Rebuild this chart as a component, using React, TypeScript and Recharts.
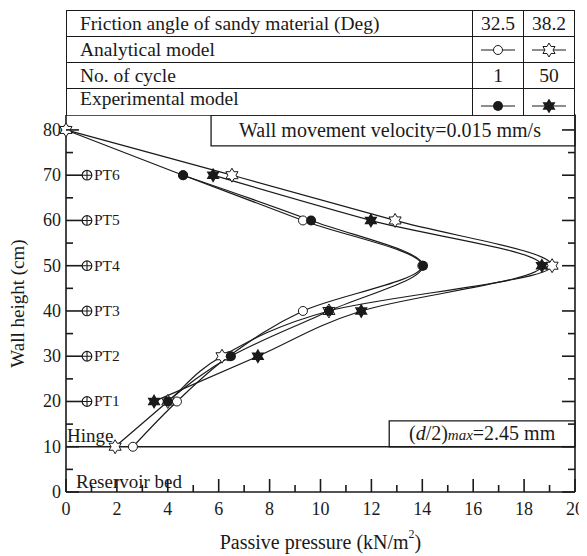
import React from "react";
import { LineChart, Line, XAxis, YAxis, ReferenceLine, ReferenceArea } from "recharts";

// wall height (cm) at each pressure transducer / hinge
const heights = [10, 20, 30, 40, 50, 60, 70, 80];
// passive pressure (kN/m2)
const analytical325 = [2.63, 4.36, 6.4, 9.31, 14.0, 9.31, 4.6, 0];
const analytical382 = [1.93, 4.0, 6.13, 10.33, 19.1, 12.93, 6.52, 0];
const experimental1 = [null, 4.0, 6.48, 10.33, 14.03, 9.63, 4.6, null];
const experimental50 = [null, 3.46, 7.54, 11.6, 18.7, 11.98, 5.78, null];

const frictionAngles = ["32.5", "38.2"];
const cycles = ["1", "50"];

const xTicks = [0, 1, 2, 3, 4, 5, 6, 7, 8, 9, 10, 11, 12, 13, 14, 15, 16, 17, 18, 19, 20];
const xLabels = [0, 2, 4, 6, 8, 10, 12, 14, 16, 18, 20];
const yTicks = [0, 5, 10, 15, 20, 25, 30, 35, 40, 45, 50, 55, 60, 65, 70, 75, 80];
const yLabels = [0, 10, 20, 30, 40, 50, 60, 70, 80];
const ptHeights = [20, 30, 40, 50, 60, 70];
const ptNames = ["PT1", "PT2", "PT3", "PT4", "PT5", "PT6"];

const data = heights.map((h, i) => ({
  h,
  a325: analytical325[i],
  a382: analytical382[i],
  e1: experimental1[i],
  e50: experimental50[i],
}));

const FONT = '"Liberation Serif", "Times New Roman", serif';
const INK = "#1a1a1a";
const TICK_W = 1.6;

const starPath = (cx: number, cy: number, r: number) => {
  const ri = r / Math.sqrt(3);
  let d = "";
  for (let k = 0; k < 12; k++) {
    const rad = k % 2 === 0 ? r : ri;
    const a = ((-90 + 30 * k) * Math.PI) / 180;
    d += (k ? "L" : "M") + (cx + rad * Math.cos(a)).toFixed(2) + "," + (cy + rad * Math.sin(a)).toFixed(2);
  }
  return d + "Z";
};

const Marker = ({ kind, cx, cy }: { kind: string; cx: number; cy: number }) => {
  if (kind === "openCircle") return <circle cx={cx} cy={cy} r={4.5} fill="#fff" stroke={INK} strokeWidth={1} />;
  if (kind === "fillCircle") return <circle cx={cx} cy={cy} r={5} fill={INK} />;
  if (kind === "openStar") return <path d={starPath(cx, cy, 7)} fill="#fff" stroke={INK} strokeWidth={1} />;
  return <path d={starPath(cx, cy, 7.5)} fill={INK} />;
};

const dotFor = (kind: string) => (p: any) => {
  const key = `${kind}-${p.index}`;
  if (p.cx == null || p.cy == null || p.value == null) return <g key={key} />;
  return (
    <g key={key}>
      <Marker kind={kind} cx={p.cx} cy={p.cy} />
    </g>
  );
};

const BottomTick = (p: any) => {
  const v = p.payload.value;
  const major = xLabels.includes(v);
  return (
    <g>
      <path d={`M${p.x},${p.y}V${p.y - (major ? 13 : 7)}`} stroke={INK} strokeWidth={TICK_W} fill="none" />
      {major && (
        <text x={p.x} y={p.y + 23} textAnchor="middle" fontFamily={FONT} fontSize={18} fill={INK}>
          {v}
        </text>
      )}
    </g>
  );
};

const TopTick = (p: any) => {
  const v = p.payload.value;
  const major = xLabels.includes(v);
  return <path d={`M${p.x},${p.y}V${p.y + (major ? 13 : 7)}`} stroke={INK} strokeWidth={TICK_W} fill="none" />;
};

const LeftTick = (p: any) => {
  const v = p.payload.value;
  const major = yLabels.includes(v);
  const pt = ptHeights.indexOf(v);
  return (
    <g>
      {pt >= 0 ? (
        <g>
          <path d={`M${p.x},${p.y}H${p.x + 16}`} stroke={INK} strokeWidth={TICK_W} fill="none" />
          <circle cx={p.x + 21} cy={p.y} r={4.8} fill="#fff" stroke={INK} strokeWidth={1.2} />
          <path d={`M${p.x + 16.2},${p.y}H${p.x + 25.8}M${p.x + 21},${p.y - 4.8}V${p.y + 4.8}`} stroke={INK} strokeWidth={1.1} fill="none" />
          <text x={p.x + 28} y={p.y + 5} fontFamily={FONT} fontSize={15.5} fill={INK}>
            {ptNames[pt]}
          </text>
        </g>
      ) : (
        <path d={`M${p.x},${p.y}H${p.x + (major ? 13 : 7)}`} stroke={INK} strokeWidth={TICK_W} fill="none" />
      )}
      {major && (
        <text x={p.x - 5} y={p.y + 6} textAnchor="end" fontFamily={FONT} fontSize={18} fill={INK}>
          {v}
        </text>
      )}
    </g>
  );
};

const RightTick = (p: any) => {
  const v = p.payload.value;
  const major = yLabels.includes(v);
  return <path d={`M${p.x},${p.y}H${p.x - (major ? 13 : 7)}`} stroke={INK} strokeWidth={TICK_W} fill="none" />;
};

const XTitle = (p: any) => {
  const vb = p.viewBox;
  return (
    <text x={vb.x + vb.width / 2} y={vb.y + 57} textAnchor="middle" fontFamily={FONT} fontSize={20} fill={INK}>
      Passive pressure (kN/m
      <tspan dy={-11} fontSize={12}>2</tspan>
      <tspan dy={11}>)</tspan>
    </text>
  );
};

const YTitle = (p: any) => {
  const vb = p.viewBox;
  const cx = vb.x + 16;
  const cy = vb.y + vb.height / 2;
  return (
    <text x={cx} y={cy} textAnchor="middle" fontFamily={FONT} fontSize={19} fill={INK} transform={`rotate(-90 ${cx} ${cy})`}>
      Wall height (cm)
    </text>
  );
};

const VelocityText = (p: any) => {
  const vb = p.viewBox;
  return (
    <text x={vb.x + vb.width / 2 - 3} y={vb.y + vb.height / 2 + 7} textAnchor="middle" fontFamily={FONT} fontSize={20} fill={INK}>
      Wall movement velocity=0.015 mm/s
    </text>
  );
};

const DispText = (p: any) => {
  const vb = p.viewBox;
  return (
    <text x={vb.x + vb.width / 2} y={vb.y + vb.height / 2 + 6} textAnchor="middle" fontFamily={FONT} fontSize={20} fill={INK}>
      (<tspan fontStyle="italic">d</tspan>/2)
      <tspan fontStyle="italic" fontSize={15}>max</tspan>
      =2.45 mm
    </text>
  );
};

const HingeText = (p: any) => {
  const vb = p.viewBox;
  return (
    <text x={vb.x + 1} y={vb.y - 5} fontFamily={FONT} fontSize={19} fill={INK}>
      Hinge
    </text>
  );
};

const BedText = (p: any) => {
  const vb = p.viewBox;
  return (
    <text x={vb.x + 10} y={vb.y - 4} fontFamily={FONT} fontSize={19} fill={INK}>
      Reservoir bed
    </text>
  );
};

const LegendMark = ({ kind }: { kind: string }) => (
  <svg width={36} height={14} style={{ display: "block", margin: "0 auto" }}>
    <path d="M1,7H35" stroke={INK} strokeWidth={1} />
    <Marker kind={kind} cx={18} cy={7} />
  </svg>
);

const rowHeights = [25, 26, 26, 28];
const cell: React.CSSProperties = {
  width: 51,
  borderLeft: `1.2px solid ${INK}`,
  display: "flex",
  alignItems: "center",
  justifyContent: "center",
  boxSizing: "border-box",
};

const Legend = () => {
  const rows = [
    { label: "Friction angle of sandy material (Deg)", a: frictionAngles[0], b: frictionAngles[1] },
    { label: "Analytical model", a: <LegendMark kind="openCircle" />, b: <LegendMark kind="openStar" /> },
    { label: "No. of cycle", a: cycles[0], b: cycles[1] },
    { label: "Experimental model", a: <LegendMark kind="fillCircle" />, b: <LegendMark kind="fillStar" /> },
  ];
  return (
    <div
      style={{
        position: "absolute",
        left: 58,
        top: 2,
        width: 509,
        height: 105,
        border: `1.5px solid ${INK}`,
        borderBottom: "none",
        boxSizing: "border-box",
        fontFamily: FONT,
        fontSize: 19.5,
        color: INK,
        background: "#fff",
      }}
    >
      {rows.map((r, i) => (
        <div
          key={i}
          style={{
            display: "flex",
            height: rowHeights[i],
            borderTop: i ? `1.2px solid ${INK}` : "none",
            boxSizing: "border-box",
          }}
        >
          <div
            style={{
              flex: 1,
              paddingLeft: 13,
              display: "flex",
              alignItems: i === 3 ? "flex-start" : "center",
              lineHeight: "20px",
            }}
          >
            {r.label}
          </div>
          <div style={{ ...cell, alignItems: i === 3 ? "flex-end" : "center", paddingBottom: i === 3 ? 3 : 0 }}>{r.a}</div>
          <div style={{ ...cell, alignItems: i === 3 ? "flex-end" : "center", paddingBottom: i === 3 ? 3 : 0 }}>{r.b}</div>
        </div>
      ))}
    </div>
  );
};

export default function App() {
  return (
    <div style={{ position: "relative", width: 579, height: 548, background: "#fff" }}>
      <LineChart
        width={579}
        height={548}
        data={data}
        layout="vertical"
        margin={{ top: 106, right: 11, left: 0, bottom: 0 }}
      >
        <XAxis
          type="number"
          domain={[0, 20]}
          ticks={xTicks}
          interval={0}
          height={64}
          tickSize={0}
          tickMargin={0}
          tick={<BottomTick />}
          axisLine={{ stroke: INK, strokeWidth: 1.6 }}
          label={{ content: <XTitle /> }}
        />
        <XAxis
          xAxisId="top"
          orientation="top"
          type="number"
          domain={[0, 20]}
          ticks={xTicks}
          interval={0}
          height={1}
          tickSize={0}
          tickMargin={0}
          tick={<TopTick />}
          axisLine={{ stroke: INK, strokeWidth: 1.6 }}
        />
        <YAxis
          type="number"
          dataKey="h"
          reversed
          domain={[0, 83.3]}
          ticks={yTicks}
          interval={0}
          width={58}
          tickSize={0}
          tickMargin={0}
          tick={<LeftTick />}
          axisLine={{ stroke: INK, strokeWidth: 1.6 }}
          label={{ content: <YTitle /> }}
        />
        <YAxis
          yAxisId="right"
          orientation="right"
          type="number"
          dataKey="h"
          reversed
          domain={[0, 83.3]}
          ticks={yTicks}
          interval={0}
          width={1}
          tickSize={0}
          tickMargin={0}
          tick={<RightTick />}
          axisLine={{ stroke: INK, strokeWidth: 1.6 }}
        />
        <ReferenceArea
          x1={5.7}
          x2={20}
          y1={76.5}
          y2={83.3}
          fill="#fff"
          fillOpacity={1}
          stroke={INK}
          strokeWidth={1.3}
          label={{ content: <VelocityText /> }}
        />
        <ReferenceArea
          x1={12.7}
          x2={20}
          y1={10}
          y2={15.7}
          fill="#fff"
          fillOpacity={1}
          stroke={INK}
          strokeWidth={1.3}
          label={{ content: <DispText /> }}
        />
        <ReferenceLine y={10} stroke={INK} strokeWidth={1.3} label={{ content: <HingeText /> }} />
        <ReferenceLine y={0} stroke="none" label={{ content: <BedText /> }} />
        <Line dataKey="a325" type="monotoneY" stroke={INK} strokeWidth={1.2} dot={dotFor("openCircle")} activeDot={false} isAnimationActive={false} />
        <Line dataKey="a382" type="monotoneY" stroke={INK} strokeWidth={1.2} dot={dotFor("openStar")} activeDot={false} isAnimationActive={false} />
        <Line dataKey="e1" type="monotoneY" stroke={INK} strokeWidth={1.2} dot={dotFor("fillCircle")} activeDot={false} isAnimationActive={false} />
        <Line dataKey="e50" type="monotoneY" stroke={INK} strokeWidth={1.2} dot={dotFor("fillStar")} activeDot={false} isAnimationActive={false} />
      </LineChart>
      <Legend />
    </div>
  );
}
